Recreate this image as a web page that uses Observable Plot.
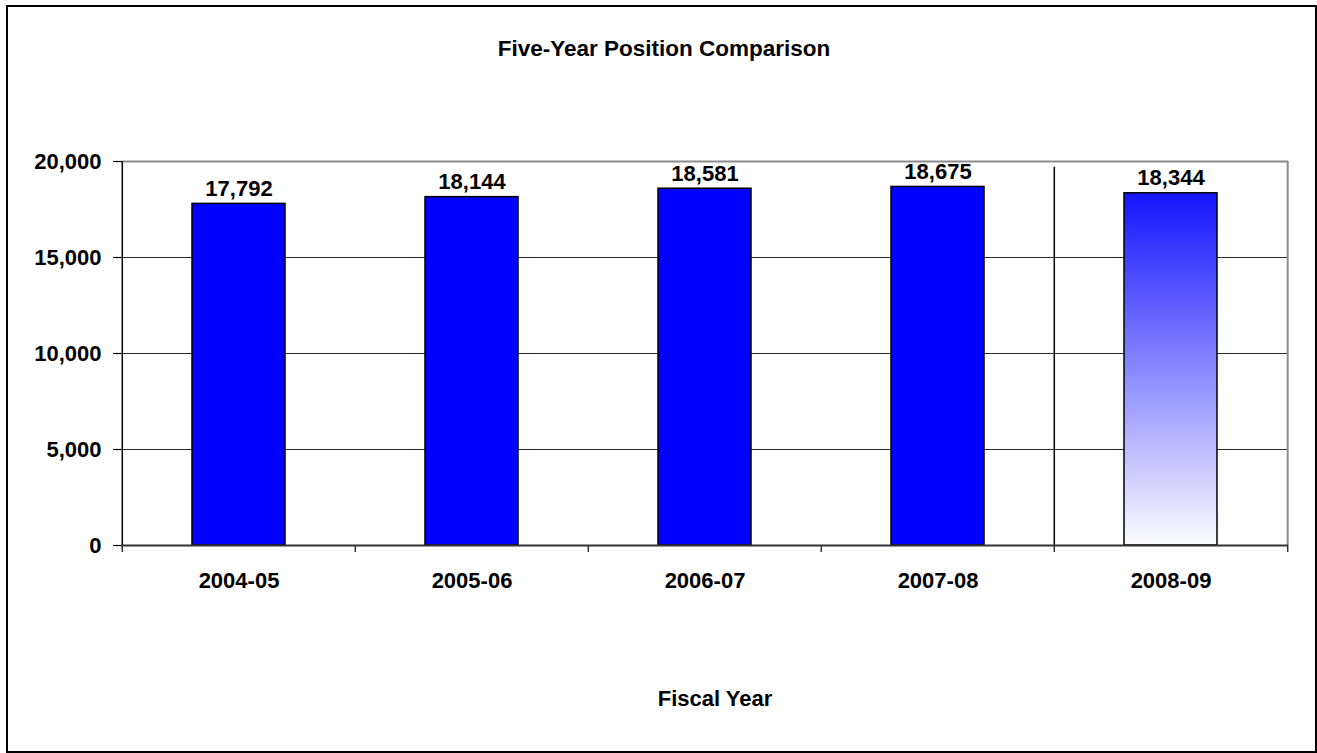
<!DOCTYPE html>
<html>
<head>
<meta charset="utf-8">
<script src="https://cdn.jsdelivr.net/npm/d3@7"></script>
<script src="https://cdn.jsdelivr.net/npm/@observablehq/plot@0.6"></script>
<style>
  html, body { margin: 0; padding: 0; background: #fff; }
  #wrap { position: relative; width: 1317px; height: 753px; overflow: hidden; font-family: "Liberation Sans", Arial, sans-serif; }
  #border { position: absolute; left: 6px; top: 5px; right: 0; bottom: 0; border: 2px solid #000; box-sizing: border-box; }
  #title { position: absolute; left: 0; width: 1328px; top: 38px; text-align: center; font-size: 22.5px; line-height: 22px; font-weight: bold; color: #000; }
  #chart { position: absolute; left: 0; top: 100px; }
  #chart svg text { font-family: "Liberation Sans", Arial, sans-serif; }
</style>
</head>
<body>
<div id="wrap">
  <div id="border"></div>
  <div id="title">Five-Year Position Comparison</div>
  <div id="chart"></div>
</div>
<script>
const categories = ["2004-05", "2005-06", "2006-07", "2007-08", "2008-09"];
const positions = [17792, 18144, 18581, 18675, 18344];
const yTicks = [0, 5000, 10000, 15000, 20000];
const projectedYear = "2008-09";
const xTitle = "Fiscal Year";

const data = categories.map((c, i) => ({year: c, value: positions[i]}));
const actual = data.filter(d => d.year !== projectedYear);
const projected = data.filter(d => d.year === projectedYear);

const W = 1317, H = 640;
const mL = 121, mR = 29, mT = 61, mB = 195;
const step = (W - mL - mR) / categories.length;
const fmt = d3.format(",");

const chart = Plot.plot({
  width: W,
  height: H,
  marginLeft: mL,
  marginRight: mR,
  marginTop: mT,
  marginBottom: mB,
  style: {fontFamily: "Liberation Sans, Arial, sans-serif", background: "transparent", color: "#000"},
  x: {type: "band", domain: categories, paddingInner: 0.6, paddingOuter: 0.3, axis: null},
  y: {domain: [0, 20000], axis: null},
  marks: [
    // gridlines
    Plot.ruleY(yTicks.filter(t => t > 0 && t < 20000), {stroke: "#2a2a2a", strokeWidth: 1.2}),
    Plot.ruleY([20000], {stroke: "#8c8c8c", strokeWidth: 2}),
    // right border
    Plot.ruleX([categories[categories.length - 1]], {dx: step / 2, stroke: "#8c8c8c", strokeWidth: 2}),
    // separator before projected year
    Plot.ruleX([projectedYear], {dx: -step / 2, y1: 0, y2: 19700, stroke: "#000", strokeWidth: 1.5}),
    // bars
    Plot.barY(actual, {x: "year", y: "value", fill: "#0000ff", stroke: "#000", strokeWidth: 1.5}),
    Plot.barY(projected, {x: "year", y: "value", fill: "url(#projGrad)", stroke: "#000", strokeWidth: 1.5}),
    // axes lines
    Plot.ruleX([categories[0]], {dx: -step / 2, stroke: "#000", strokeWidth: 1.5}),
    Plot.ruleY([0], {stroke: "#333", strokeWidth: 2}),
    // y axis
    Plot.axisY({ticks: yTicks, tickFormat: fmt, tickSize: 8, tickPadding: 12, fontSize: 22, fontWeight: "bold", label: null, stroke: "#000", strokeWidth: 1.2}),
    // x boundary ticks
    Plot.axisX({ticks: categories, text: null, tickSize: 7, dx: -step / 2, label: null, stroke: "#333", strokeWidth: 1.5}),
    Plot.axisX({ticks: [categories[categories.length - 1]], text: null, tickSize: 7, dx: step / 2, label: null, stroke: "#333", strokeWidth: 1.5}),
    // x labels
    Plot.axisX({ticks: categories, tickSize: 0, tickPadding: 27, fontSize: 22, fontWeight: "bold", label: null}),
    // value labels
    Plot.text(data, {x: "year", y: "value", text: d => fmt(d.value), lineAnchor: "bottom", dy: -8, fontSize: 22, fontWeight: "bold", fill: "#000"}),
    // x title
    Plot.text([xTitle], {frameAnchor: "bottom", text: d => d, lineAnchor: "bottom", dy: 160, dx: 10, fontSize: 22, fontWeight: "bold", fill: "#000"})
  ]
});

const defs = d3.create("svg:defs");
const grad = defs.append("linearGradient").attr("id", "projGrad").attr("x1", 0).attr("y1", 0).attr("x2", 0).attr("y2", 1);
grad.append("stop").attr("offset", "0%").attr("stop-color", "#1414ff");
grad.append("stop").attr("offset", "100%").attr("stop-color", "#fcfcff");
chart.insertBefore(defs.node(), chart.firstChild);

document.getElementById("chart").appendChild(chart);
</script>
</body>
</html>
